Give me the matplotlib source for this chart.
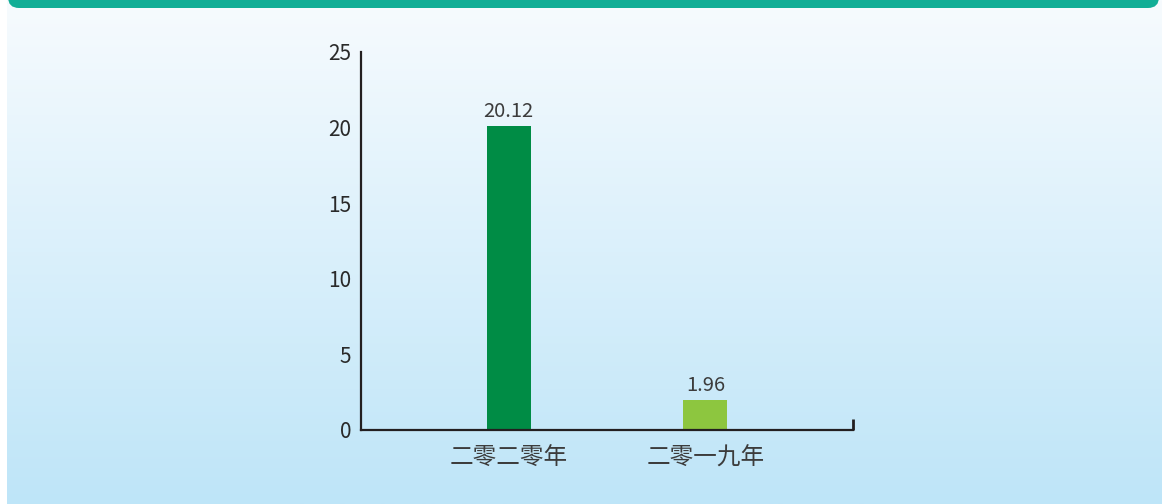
import numpy as np
import matplotlib
matplotlib.use('Agg')
import matplotlib.pyplot as plt
from matplotlib.patches import FancyBboxPatch

plt.rcParams['font.family'] = ['Noto Sans CJK SC', 'DejaVu Sans']

# chart data
categories = ['二零二零年', '二零一九年']
values = [20.12, 1.96]
value_labels = ['20.12', '1.96']
bar_colors = ['#008C45', '#8DC63F']
y_ticks = [0, 5, 10, 15, 20, 25]

text_color = '#3C3C3C'
axis_color = '#231F20'

fig = plt.figure(figsize=(11.62, 5.04), dpi=100)
fig.patch.set_facecolor('white')

# background panel with vertical gradient and teal header strip (pixel coords)
ax_bg = fig.add_axes([0, 0, 1, 1])
ax_bg.axis('off')
top_rgb = np.array([247, 251, 254]) / 255
bot_rgb = np.array([190, 229, 248]) / 255
t = np.linspace(0, 1, 256)[:, None]
grad = (top_rgb[None, :] * (1 - t) + bot_rgb[None, :] * t)[:, None, :]
ax_bg.imshow(grad, extent=[7, 1162, 504, 0], aspect='auto', interpolation='bilinear')
ax_bg.add_patch(FancyBboxPatch((8, -30), 1151, 38,
                               boxstyle='round,pad=0,rounding_size=11',
                               facecolor='#12AE96', edgecolor='none'))
ax_bg.set_xlim(0, 1162)
ax_bg.set_ylim(504, 0)

# main chart
ax = fig.add_axes([361 / 1162, 74 / 504, 492 / 1162, 378 / 504])
ax.patch.set_alpha(0)
x = np.arange(len(categories))
ax.bar(x, values, width=0.223, color=bar_colors, zorder=2)
ax.set_xlim(-0.75, 1.75)
ax.set_ylim(0, 25)

for xi, v, lab in zip(x, values, value_labels):
    ax.annotate(lab, (xi, v), xytext=(0, 3), textcoords='offset points',
                ha='center', va='bottom', fontsize=14.5, color=text_color,
                fontweight='light')

ax.set_yticks(y_ticks)
ax.set_yticklabels([str(v) for v in y_ticks])
ax.set_xticks(x)
ax.set_xticklabels(categories)
ax.tick_params(axis='y', length=0, pad=7, labelsize=15, labelcolor='#2A2A2A')
ax.tick_params(axis='x', length=0, pad=12, labelsize=17, labelcolor=text_color)
for lbl in ax.get_xticklabels():
    lbl.set_fontweight('light')
ax.set_xticks([1.75], minor=True)
ax.tick_params(axis='x', which='minor', direction='in', length=8, width=2,
               color=axis_color)

for side in ['top', 'right']:
    ax.spines[side].set_visible(False)
for side in ['left', 'bottom']:
    ax.spines[side].set_color(axis_color)
    ax.spines[side].set_linewidth(1.6)

fig.savefig('out.png', dpi=100)
